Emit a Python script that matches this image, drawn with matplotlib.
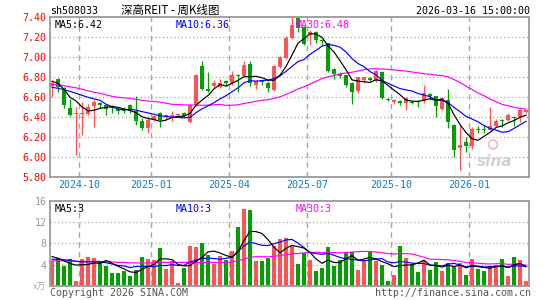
import matplotlib
matplotlib.use('Agg')
import matplotlib.pyplot as plt
import numpy as np
import pandas as pd

# ---------------- data ----------------
opens  = [6.71, 6.78, 6.69, 6.49, 6.43, 6.43, 6.43, 6.51, 6.54, 6.52,
          6.51, 6.48, 6.48, 6.52, 6.46, 6.36, 6.29, 6.37, 6.44, 6.40,
          6.41, 6.42, 6.44, 6.35, 6.52, 6.91, 6.68, 6.71, 6.70, 6.76,
          6.74, 6.82, 6.81, 6.93, 6.72, 6.76, 6.74, 6.67, 6.90, 6.99,
          7.19, 7.39, 7.30, 7.22, 7.25, 7.17, 7.14, 6.88, 6.83, 6.82,
          6.74, 6.66, 6.77, 6.79, 6.76, 6.85, 6.58, 6.55, 6.56, 6.54,
          6.55, 6.56, 6.56, 6.63, 6.61, 6.48, 6.57, 6.32, 6.09, 6.15,
          6.11, 6.28, 6.28, 6.27, 6.31, 6.37, 6.37, 6.40, 6.40, 6.45]
highs  = [6.77, 6.79, 6.70, 6.58, 6.50, 6.55, 6.53, 6.57, 6.55, 6.53,
          6.52, 6.50, 6.50, 6.53, 6.61, 6.39, 6.41, 6.42, 6.45, 6.43,
          6.46, 6.44, 6.45, 6.53, 6.83, 6.96, 6.85, 6.77, 6.78, 6.77,
          6.86, 6.83, 6.96, 6.96, 6.77, 6.76, 6.76, 6.92, 7.01, 7.21,
          7.40, 7.41, 7.31, 7.27, 7.26, 7.18, 7.14, 6.89, 6.85, 6.82,
          6.75, 6.80, 6.80, 6.80, 6.87, 6.86, 6.59, 6.58, 6.57, 6.60,
          6.56, 6.57, 6.72, 6.64, 6.61, 6.60, 6.68, 6.33, 6.32, 6.20,
          6.30, 6.31, 6.32, 6.50, 6.38, 6.38, 6.44, 6.41, 6.48, 6.48]
lows   = [6.60, 6.65, 6.49, 6.41, 6.02, 6.22, 6.42, 6.30, 6.49, 6.42,
          6.44, 6.43, 6.44, 6.44, 6.32, 6.27, 6.24, 6.36, 6.30, 6.37,
          6.36, 6.41, 6.40, 6.34, 6.51, 6.67, 6.65, 6.69, 6.69, 6.71,
          6.72, 6.65, 6.80, 6.71, 6.68, 6.72, 6.65, 6.66, 6.89, 6.98,
          7.18, 7.25, 7.12, 7.12, 7.14, 7.12, 6.85, 6.78, 6.79, 6.70,
          6.53, 6.64, 6.74, 6.76, 6.75, 6.58, 6.56, 6.53, 6.52, 6.47,
          6.53, 6.50, 6.54, 6.57, 6.40, 6.47, 6.29, 6.00, 5.87, 6.05,
          6.08, 6.24, 6.24, 6.27, 6.30, 6.30, 6.36, 6.31, 6.35, 6.44]
closes = [6.74, 6.70, 6.52, 6.42, 6.44, 6.44, 6.50, 6.55, 6.52, 6.48,
          6.49, 6.46, 6.46, 6.46, 6.36, 6.29, 6.37, 6.41, 6.37, 6.42,
          6.42, 6.43, 6.41, 6.52, 6.82, 6.68, 6.66, 6.74, 6.74, 6.74,
          6.82, 6.81, 6.92, 6.74, 6.76, 6.75, 6.69, 6.91, 7.00, 7.19,
          7.32, 7.29, 7.13, 7.25, 7.17, 7.16, 6.86, 6.83, 6.81, 6.72,
          6.65, 6.80, 6.80, 6.77, 6.86, 6.59, 6.57, 6.57, 6.54, 6.59,
          6.54, 6.55, 6.64, 6.61, 6.51, 6.59, 6.35, 6.07, 6.12, 6.11,
          6.28, 6.27, 6.27, 6.31, 6.36, 6.36, 6.42, 6.39, 6.47, 6.47]
volumes = [4.7, 5.2, 3.7, 5.0, 0.9, 5.0, 5.4, 5.2, 4.6, 3.7,
           2.4, 2.4, 2.8, 1.8, 3.0, 5.4, 5.0, 4.8, 7.1, 3.1,
           4.6, 0.5, 3.3, 7.5, 7.3, 8.0, 5.8, 4.1, 5.7, 4.9,
           6.5, 11.1, 14.5, 14.3, 4.7, 4.7, 5.3, 7.5, 8.8, 9.0,
           7.5, 4.1, 6.1, 4.8, 2.8, 3.3, 7.3, 3.7, 4.8, 6.3,
           6.3, 3.0, 4.7, 6.5, 4.7, 3.9, 0.9, 2.0, 7.5, 5.2,
           4.1, 2.6, 4.7, 3.0, 4.5, 2.8, 4.3, 3.5, 4.3, 2.0,
           5.0, 3.1, 2.8, 3.7, 3.9, 5.0, 1.8, 5.4, 4.8, 0.9]

# moving-average values at the left edge (window not yet complete)
ma5_head  = [6.76, 6.74, 6.68, 6.60]
ma10_head = [6.70, 6.69, 6.675, 6.66, 6.64, 6.62, 6.60, 6.585, 6.57]
ma30_head = [6.73, 6.725, 6.715, 6.705, 6.695, 6.68, 6.665, 6.65, 6.64, 6.625,
             6.61, 6.60, 6.595, 6.59, 6.58, 6.57, 6.563, 6.558, 6.553, 6.54,
             6.53, 6.527, 6.525, 6.523, 6.522, 6.52, 6.522, 6.525, 6.53]
vma5_head  = [5.5, 5.2, 4.7, 4.2]
vma10_head = [5.0, 5.0, 4.9, 4.8, 4.6, 4.5, 4.5, 4.5, 4.5]
vma30_head = [4.7, 4.7, 4.7, 4.7, 4.6, 4.6, 4.6, 4.6, 4.6, 4.5,
              4.5, 4.4, 4.4, 4.3, 4.3, 4.3, 4.3, 4.3, 4.4, 4.4,
              4.4, 4.4, 4.4, 4.4, 4.4, 4.4, 4.4, 4.4, 4.4]

month_labels = ['2024-10', '2025-01', '2025-04', '2025-07', '2025-10', '2026-01']
month_first_bar = [5, 17, 30, 43, 57, 70]

price_ticks = [5.80, 6.00, 6.20, 6.40, 6.60, 6.80, 7.00, 7.20, 7.40]
vol_ticks = [0, 4, 8, 12, 16]

symbol = 'sh508033'
title = '深高REIT - 周K线图'
timestamp = '2026-03-16 15:00:00'

# ---------------- helpers ----------------
def ma(values, window, head):
    s = pd.Series(values, dtype=float).rolling(window).mean().to_numpy()
    s[:len(head)] = head
    return s

W, H = 545, 300
RED = '#ff5252'
GREEN = '#00a000'
GRID = '#a8a8a8'
BORDER = '#9a9a9a'
MONO = 'DejaVu Sans Mono'
FS = 7.2

o = np.array(opens); h = np.array(highs); l = np.array(lows); c = np.array(closes)
v = np.array(volumes)
n = len(c)
x = np.arange(n)
up = c >= o
cols = np.where(up, RED, GREEN)

fig = plt.figure(figsize=(W / 100, H / 100), dpi=100)
fig.patch.set_facecolor('white')

left_px, right_px = 50, 529
ax = fig.add_axes([left_px / W, 1 - 177.3 / H, (right_px - left_px) / W, 160 / H])
axv = fig.add_axes([left_px / W, 1 - 285.7 / H, (right_px - left_px) / W, 84.7 / H])

xl = ((left_px - 52) / 6.0, (right_px - 52) / 6.0)
sep = [m - 0.5 for m in month_first_bar]

for a in (ax, axv):
    a.set_xlim(*xl)
    for s in a.spines.values():
        s.set_color(BORDER)
        s.set_linewidth(1.3)
    a.tick_params(axis='both', length=0)
    for sx in sep:
        a.axvline(sx, color=GRID, lw=1.0, ls=(0, (4, 3)), zorder=0)

# price panel
ax.set_ylim(price_ticks[0], price_ticks[-1])
ax.set_yticks(price_ticks)
ax.set_yticklabels(['%.2f' % t for t in price_ticks], color='#ff0000',
                   fontfamily=MONO, fontsize=FS)
ax.tick_params(axis='y', pad=2.5)
for t in price_ticks[1:-1]:
    ax.axhline(t, color=GRID, lw=0.9, ls=(0, (1, 2)), zorder=0)

# watermark
ax.text(0.965, 0.10, 'sina', transform=ax.transAxes, fontfamily='DejaVu Sans', fontsize=11,
        fontstyle='italic', fontweight='bold', color='#d2d2d2', va='center', ha='right', zorder=1)
ax.scatter([0.925], [0.205], transform=ax.transAxes, s=40, facecolor='none',
           edgecolor='#f2b8b8', linewidth=1.2, zorder=1)

body_lo = np.minimum(o, c)
body_h = np.maximum(np.abs(c - o), 0.006)
ax.vlines(x, l, h, colors=cols, lw=0.9, zorder=2)
ax.bar(x, body_h, bottom=body_lo, width=0.78, color=cols, linewidth=0, zorder=3)

m5 = ma(c, 5, ma5_head); m10 = ma(c, 10, ma10_head); m30 = ma(c, 30, ma30_head)
ax.plot(x, m30, color='#ff00ff', lw=0.85, zorder=4)
ax.plot(x, m10, color='#0000ff', lw=0.85, zorder=4)
ax.plot(x, m5, color='#000000', lw=0.85, zorder=4)

ax.set_xticks(sep)
ax.set_xticklabels(month_labels, color='#0a7cd6', fontfamily=MONO, fontsize=FS)
ax.tick_params(axis='x', pad=2)

ax.text(5 / 479, 0.955, 'MA5:%.2f' % m5[-1], transform=ax.transAxes, color='black',
        fontfamily=MONO, fontsize=FS, va='center', ha='left', zorder=6)
ax.text(126 / 479, 0.955, 'MA10:%.2f' % m10[-1], transform=ax.transAxes, color='#0000ff',
        fontfamily=MONO, fontsize=FS, va='center', ha='left', zorder=6)
ax.text(246 / 479, 0.955, 'MA30:%.2f' % m30[-1], transform=ax.transAxes, color='#ff00ff',
        fontfamily=MONO, fontsize=FS, va='center', ha='left', zorder=6)

# volume panel
axv.set_ylim(vol_ticks[0], vol_ticks[-1])
axv.set_yticks(vol_ticks)
axv.set_yticklabels([''] + [str(t) for t in vol_ticks[1:]], color='#999999',
                    fontfamily=MONO, fontsize=FS)
axv.tick_params(axis='y', pad=2.5)
axv.set_xticks([])
for t in vol_ticks[1:-1]:
    axv.axhline(t, color=GRID, lw=0.9, ls=(0, (1, 2)), zorder=0)
axv.bar(x, v, width=0.78, color=cols, linewidth=0, zorder=2)
vm5 = ma(v, 5, vma5_head); vm10 = ma(v, 10, vma10_head); vm30 = ma(v, 30, vma30_head)
axv.plot(x, vm30, color='#ff00ff', lw=0.85, zorder=4)
axv.plot(x, vm10, color='#0000ff', lw=0.85, zorder=4)
axv.plot(x, vm5, color='#000000', lw=0.85, zorder=4)
axv.text(5 / 479, 0.90, 'MA5:%d' % int(vm5[-1]), transform=axv.transAxes, color='black',
         fontfamily=MONO, fontsize=FS, va='center', ha='left', zorder=6)
axv.text(126 / 479, 0.90, 'MA10:%d' % int(vm10[-1]), transform=axv.transAxes, color='#0000ff',
         fontfamily=MONO, fontsize=FS, va='center', ha='left', zorder=6)
axv.text(246 / 479, 0.90, 'MA30:%d' % int(vm30[-1]), transform=axv.transAxes, color='#ff00ff',
         fontfamily=MONO, fontsize=FS, va='center', ha='left', zorder=6)

# header / footer texts
fig.text(50 / W, 1 - 11 / H, symbol, fontfamily=MONO, fontsize=FS, va='center', ha='left')
fig.text(121 / W, 1 - 10.5 / H, title, family=['Noto Sans CJK SC', 'DejaVu Sans'],
         fontsize=8.3, va='center', ha='left')
fig.text(530 / W, 1 - 11 / H, timestamp, fontfamily=MONO, fontsize=FS, va='center', ha='right')
fig.text(46 / W, 1 - 287 / H, 'x万', family=['Noto Sans CJK SC', 'DejaVu Sans'],
         fontsize=6.5, color='#aaaaaa', va='center', ha='right')
fig.text(50 / W, 1 - 293 / H, 'Copyright 2026 SINA.COM', fontfamily=MONO, fontsize=FS,
         color='#555555', va='center', ha='left')
fig.text(531 / W, 1 - 293 / H, 'http://finance.sina.com.cn', fontfamily=MONO, fontsize=FS,
         color='#555555', va='center', ha='right')

fig.savefig('out.png', dpi=100, facecolor='white')
